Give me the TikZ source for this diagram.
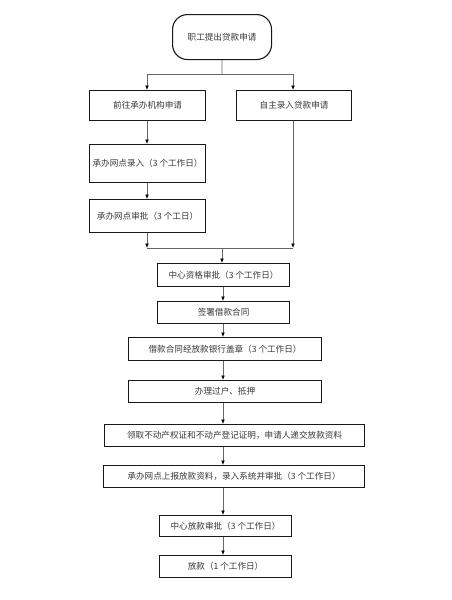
\documentclass[tikz,border=0pt]{standalone}
\usepackage{fontspec}
\newfontfamily\cjk{Noto Sans CJK SC}
\usetikzlibrary{arrows.meta,positioning}
\tikzset{
  every node/.style={font=\cjk\fontsize{8.6pt}{10pt}\selectfont, text=black!78},
  box/.style={draw=black!90, line width=1.1pt, inner sep=0pt, anchor=north west},
  startbox/.style={box, rounded corners=15pt},
  conn/.style={draw=black!60, line width=0.8pt},
  arr/.style={conn, -{Latex[length=4.5pt,width=3.8pt,color=black]}},
}
\newcommand{\bx}[7]{% name, style, x1, y1, x2, y2, text
  \node[#2, minimum width=#5pt-#3pt, minimum height=#6pt-#4pt] (#1) at (#3,#4) {#7};}
\begin{document}
\begin{tikzpicture}[x=1pt,y=-1pt]
\useasboundingbox (0,0) rectangle (451,600);
\fill[white] (0,0) rectangle (451,600);
\bx{start}{startbox}{172}{14}{271}{59}{职工提出贷款申请}
\bx{go}{box}{89}{90}{205}{120}{前往承办机构申请}
\bx{self}{box}{236}{90}{351}{120}{自主录入贷款申请}
\bx{entry}{box}{89}{144}{205}{182}{承办网点录入（3 个工作日）}
\bx{appr}{box}{89}{199}{205}{232}{承办网点审批（3 个工日）}
\bx{qual}{box}{157}{263}{289}{286}{中心资格审批（3 个工作日）}
\bx{sign}{box}{157}{301}{289}{323}{签署借款合同}
\bx{stamp}{box}{128}{337}{321}{360}{借款合同经放款银行盖章（3 个工作日）}
\bx{trans}{box}{128}{380}{321}{402}{办理过户、抵押}
\bx{collect}{box}{104}{424}{364}{446}{领取不动产权证和不动产登记证明，申请人递交放款资料}
\bx{report}{box}{103}{465}{364}{487}{承办网点上报放款资料，录入系统并审批（3 个工作日）}
\bx{central}{box}{159}{515}{291}{536}{中心放款审批（3 个工作日）}
\bx{loan}{box}{159}{555}{291}{577}{放款（1 个工作日）}
% guide coordinates
\coordinate (split) at (222,74);
\coordinate (lx) at (147,0);
\coordinate (rx) at (293,0);
\coordinate (merge) at (222,248);
\coordinate (ax) at (223,0);
% top split
\draw[conn] (start.south) -- (split);
\draw[conn] (split -| lx) -- (split -| rx);
\draw[arr] (split -| lx) -- (go.north -| lx);
\draw[arr] (split -| rx) -- (self.north -| rx);
% left chain
\draw[arr] (go.south -| lx) -- (entry.north -| lx);
\draw[arr] (entry.south -| lx) -- (appr.north -| lx);
% merge
\draw[arr] (appr.south -| lx) -- (merge -| lx);
\draw[arr] (self.south -| rx) -- (merge -| rx);
\draw[conn] ([yshift=-0.8pt]merge -| lx) -- ([yshift=-0.8pt]merge -| rx);
\draw[arr] ([yshift=-0.8pt]merge) -- (qual.north -| merge);
% main chain
\draw[arr] (qual.south -| ax) -- (sign.north -| ax);
\draw[arr] (sign.south -| ax) -- (stamp.north -| ax);
\draw[arr] (stamp.south -| ax) -- (trans.north -| ax);
\draw[arr] (trans.south -| ax) -- (collect.north -| ax);
\draw[arr] (collect.south -| ax) -- (report.north -| ax);
\draw[arr] (report.south -| ax) -- (central.north -| ax);
\draw[arr] (central.south -| ax) -- (loan.north -| ax);
\end{tikzpicture}
\end{document}
